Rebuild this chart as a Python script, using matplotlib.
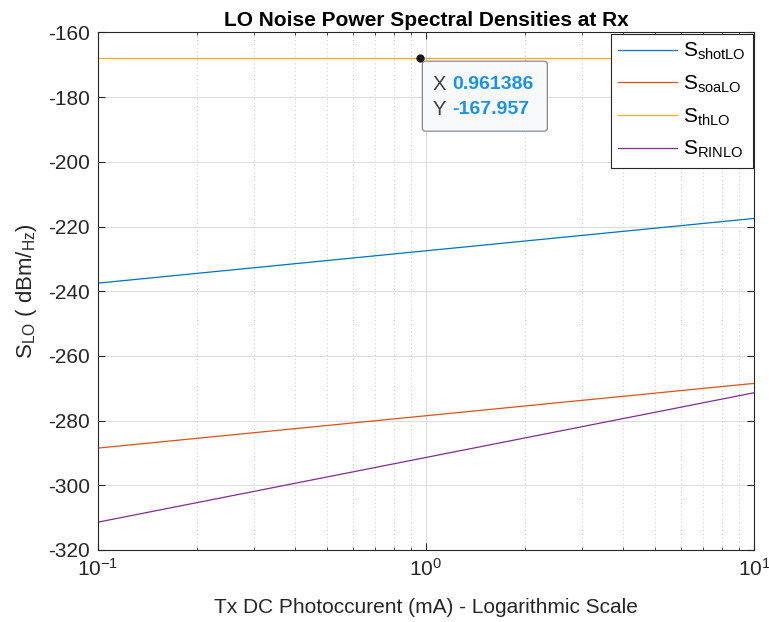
import matplotlib
matplotlib.use("Agg")
import matplotlib.pyplot as plt
import matplotlib.transforms as mtrans
from matplotlib.patches import FancyBboxPatch
from matplotlib.ticker import LogLocator, NullFormatter

plt.rcParams['font.family'] = ['Liberation Sans', 'DejaVu Sans']
plt.rcParams['mathtext.fontset'] = 'custom'
plt.rcParams['mathtext.rm'] = 'Liberation Sans'
plt.rcParams['mathtext.it'] = 'Liberation Sans'
plt.rcParams['axes.unicode_minus'] = False

# photocurrent (mA) and noise PSDs (dBm/Hz)
i_mA = [0.1, 1, 10]
s_shot = [-237.5, -227.5, -217.5]
s_soa = [-288.5, -278.5, -268.5]
s_th = [-167.957, -167.957, -167.957]
s_rin = [-311.4, -291.4, -271.4]
labels = [r'S$_{\mathrm{shotLO}}$', r'S$_{\mathrm{soaLO}}$',
          r'S$_{\mathrm{thLO}}$', r'S$_{\mathrm{RINLO}}$']
colors = ['#0072BD', '#D95319', '#EDB120', '#7E2F8E']

tip_x = 0.961386
tip_y = -167.957

dark = '#262626'

fig = plt.figure(figsize=(7.69, 6.22), dpi=100)
ax = fig.add_axes([0.1274, 0.1158, 0.853, 0.832])

for y, lab, c in zip([s_shot, s_soa, s_th, s_rin], labels, colors):
    ax.plot(i_mA, y, color=c, lw=0.9, label=lab)

ax.set_xscale('log')
ax.set_xlim(0.1, 10)
ax.set_ylim(-320, -160)
ax.set_yticks(range(-320, -159, 20))
ax.xaxis.set_minor_locator(LogLocator(base=10, subs=range(2, 10)))
ax.xaxis.set_minor_formatter(NullFormatter())

ax.grid(True, which='major', color='#dcdcdc', lw=0.8)
ax.grid(True, which='minor', axis='x', color='#c8c8c8', lw=0.7, ls=(0, (1, 3)))
ax.set_axisbelow(True)

ax.tick_params(which='both', direction='in', top=True, right=True,
               colors=dark, labelsize=15, labelcolor=dark)
ax.tick_params(which='major', length=5, pad=6)
ax.tick_params(which='minor', length=2.5)
for sp in ax.spines.values():
    sp.set_color(dark)
    sp.set_linewidth(0.8)

ax.set_title('LO Noise Power Spectral Densities at Rx', fontsize=15,
             fontweight='bold', color='black', pad=5)
ax.set_xlabel('Tx DC Photoccurent (mA) - Logarithmic Scale', fontsize=15,
              color=dark, labelpad=13)
ax.set_ylabel(r'S$_{\mathrm{LO}}$ ( dBm/$_{\mathrm{Hz}}$)', fontsize=16,
              color=dark, labelpad=6)

leg = ax.legend(loc='upper right', fontsize=15, handlelength=2.8,
                borderaxespad=0.05, fancybox=False, framealpha=1,
                edgecolor=dark, labelspacing=0.55, handletextpad=0.3,
                borderpad=0.35)
leg.get_frame().set_linewidth(0.8)
leg.set_zorder(10)

# data tip on the thermal noise line
ax.plot([tip_x], [tip_y], 'o', color='#1a1a1a', ms=5, zorder=5, clip_on=False)
px, py = ax.transData.transform((tip_x, tip_y))
box = FancyBboxPatch((px + 2, py - 73), 125, 70,
                     boxstyle='round,pad=0,rounding_size=3',
                     transform=mtrans.IdentityTransform(),
                     fc='#f8f9fb', ec='#8a8a8a', lw=0.9, zorder=6, clip_on=False)
ax.add_artist(box)

for row, (name, val) in enumerate([('X', '0.961386'), ('Y', '-167.957')]):
    dy = -26 - row * 25
    t1 = mtrans.offset_copy(ax.transData, fig=fig, x=12, y=dy, units='dots')
    t2 = mtrans.offset_copy(ax.transData, fig=fig, x=32, y=dy, units='dots')
    ax.text(tip_x, tip_y, name, transform=t1, fontsize=14.5, color='#404040',
            va='center', ha='left', zorder=7)
    ax.text(tip_x, tip_y, val, transform=t2, fontsize=14, color='#1a93e6',
            fontweight='bold', va='center', ha='left', zorder=7)

fig.savefig('out.png', dpi=100)
